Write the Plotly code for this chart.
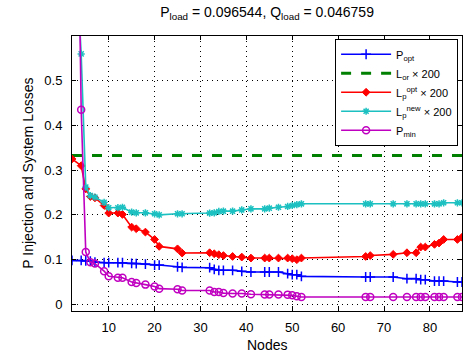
import plotly.graph_objects as go

nodes = [2, 4, 5, 6, 7, 9, 10, 12, 13, 15, 16, 18, 20, 21, 25, 26,
         32, 33, 34, 35, 37, 39, 41, 44, 45, 47, 49, 50, 51, 52,
         66, 67, 72, 75, 77, 78, 79, 81, 82, 83, 86, 87]

p_opt = [0.0982, 0.0982, 0.097, 0.0967, 0.0945, 0.093, 0.093, 0.093, 0.093, 0.0915, 0.091, 0.090, 0.0878, 0.0878, 0.084, 0.0826,
         0.0818, 0.078, 0.076, 0.076, 0.076, 0.0737, 0.0722, 0.0722, 0.0722, 0.0722, 0.0685, 0.0662, 0.0662, 0.0625,
         0.061, 0.061, 0.061, 0.0573, 0.0573, 0.055, 0.055, 0.052, 0.052, 0.052, 0.0498, 0.0498]

l_or_200 = [0.3330] * len(nodes)

lp_opt_200 = [0.325, 0.31, 0.258, 0.241, 0.238, 0.221, 0.204, 0.204, 0.201, 0.1726, 0.169, 0.1615, 0.145, 0.1295, 0.124, 0.1146,
              0.1153, 0.113, 0.111, 0.109, 0.107, 0.1056, 0.1034, 0.1034, 0.1034, 0.1034, 0.1034, 0.102, 0.0997, 0.1034,
              0.107, 0.109, 0.1116, 0.1153, 0.1153, 0.128, 0.128, 0.134, 0.137, 0.145, 0.145, 0.150]

lp_new_200 = [0.95, 0.56, 0.262, 0.243, 0.2395, 0.228, 0.216, 0.216, 0.217, 0.206, 0.2046, 0.2046, 0.2024, 0.200, 0.2024, 0.2024,
              0.204, 0.2046, 0.2076, 0.2083, 0.2083, 0.211, 0.2135, 0.2135, 0.215, 0.217, 0.2188, 0.221, 0.223, 0.2247,
              0.2247, 0.2247, 0.2247, 0.2247, 0.2247, 0.2247, 0.2247, 0.2247, 0.2247, 0.227, 0.227, 0.227]

p_min = [1.8, 0.435, 0.117, 0.094, 0.091, 0.074, 0.0625, 0.0595, 0.0595, 0.050, 0.0476, 0.044, 0.040, 0.035, 0.0335, 0.031,
         0.031, 0.0275, 0.0275, 0.025, 0.024, 0.024, 0.0223, 0.022, 0.022, 0.022, 0.0216, 0.020, 0.0179, 0.0164,
         0.0164, 0.0164, 0.0164, 0.0164, 0.0164, 0.0164, 0.0164, 0.0164, 0.0164, 0.0164, 0.0164, 0.0164]

x_ticks = [10, 20, 30, 40, 50, 60, 70, 80]
y_ticks = [0, 0.1, 0.2, 0.3, 0.4, 0.5]
y_tick_text = ["0", "0.1", "0.2", "0.3", "0.4", "0.5"]

FONT = "Liberation Sans, Arial, Helvetica, sans-serif"

fig = go.Figure()
fig.add_trace(go.Scatter(x=nodes, y=p_opt, mode="lines+markers", name="P<sub>opt</sub>",
                         line=dict(color="#0000FF", width=1.6),
                         marker=dict(symbol="cross-thin", size=7, line=dict(color="#0000FF", width=1.5))))
fig.add_trace(go.Scatter(x=nodes, y=l_or_200, mode="lines", name="L<sub>or</sub> × 200",
                         line=dict(color="#008000", width=3, dash="10px,10px")))
fig.add_trace(go.Scatter(x=nodes, y=lp_opt_200, mode="lines+markers", name="L<sub>p</sub><sup>opt</sup> × 200",
                         line=dict(color="#FF0000", width=1.6),
                         marker=dict(symbol="diamond", size=6, color="#FF0000", line=dict(color="#FF0000", width=1))))
fig.add_trace(go.Scatter(x=nodes, y=lp_new_200, mode="lines+markers", name="L<sub>p</sub><sup>new</sup> × 200",
                         line=dict(color="#1CC0C0", width=1.6),
                         marker=dict(symbol="asterisk-open", size=6, line=dict(color="#1CC0C0", width=1.5))))
fig.add_trace(go.Scatter(x=nodes, y=p_min, mode="lines+markers", name="P<sub>min</sub>",
                         line=dict(color="#C000C0", width=1.6),
                         marker=dict(symbol="circle-open", size=7, line=dict(color="#C000C0", width=1.5))))

axis_common = dict(showline=True, linecolor="black", linewidth=1, mirror="ticks",
                   ticks="inside", ticklen=4, tickcolor="black",
                   showgrid=True, gridcolor="black", gridwidth=1, griddash="1px,4px",
                   zeroline=False, tickfont=dict(family=FONT, size=13, color="black"))

fig.update_xaxes(range=[2, 87], tickvals=x_ticks, ticklabelstandoff=4, **axis_common)
fig.update_yaxes(range=[-0.015, 0.6], tickvals=y_ticks, ticktext=y_tick_text, ticklabelstandoff=6, **axis_common)

fig.add_annotation(text="Nodes", xref="paper", yref="paper", x=0.5, y=-0.124,
                   xanchor="center", yanchor="middle", showarrow=False,
                   font=dict(family=FONT, size=14, color="black"))
fig.add_annotation(text="P Injection and System Losses", xref="paper", yref="paper", x=-0.115, y=0.5,
                   xanchor="center", yanchor="middle", showarrow=False, textangle=-90,
                   font=dict(family=FONT, size=14, color="black"))

fig.update_layout(
    width=471, height=358,
    margin=dict(l=72, r=9, t=36, b=47, autoexpand=False),
    paper_bgcolor="white", plot_bgcolor="white",
    font=dict(family=FONT, color="black"),
    title=dict(text="P<sub>load</sub> = 0.096544, Q<sub>load</sub> = 0.046759",
               x=0.567, xanchor="center", y=0.965, yanchor="middle",
               font=dict(family=FONT, size=14, color="black")),
    showlegend=True,
    legend=dict(x=0.99, xanchor="right", y=0.99, yanchor="top",
                bgcolor="white", bordercolor="black", borderwidth=1,
                font=dict(family=FONT, size=11, color="black"),
                itemwidth=50),
)

fig.write_html("out.html", config={"displayModeBar": False},
               post_script="document.body.style.margin='0';document.body.style.padding='0';")
